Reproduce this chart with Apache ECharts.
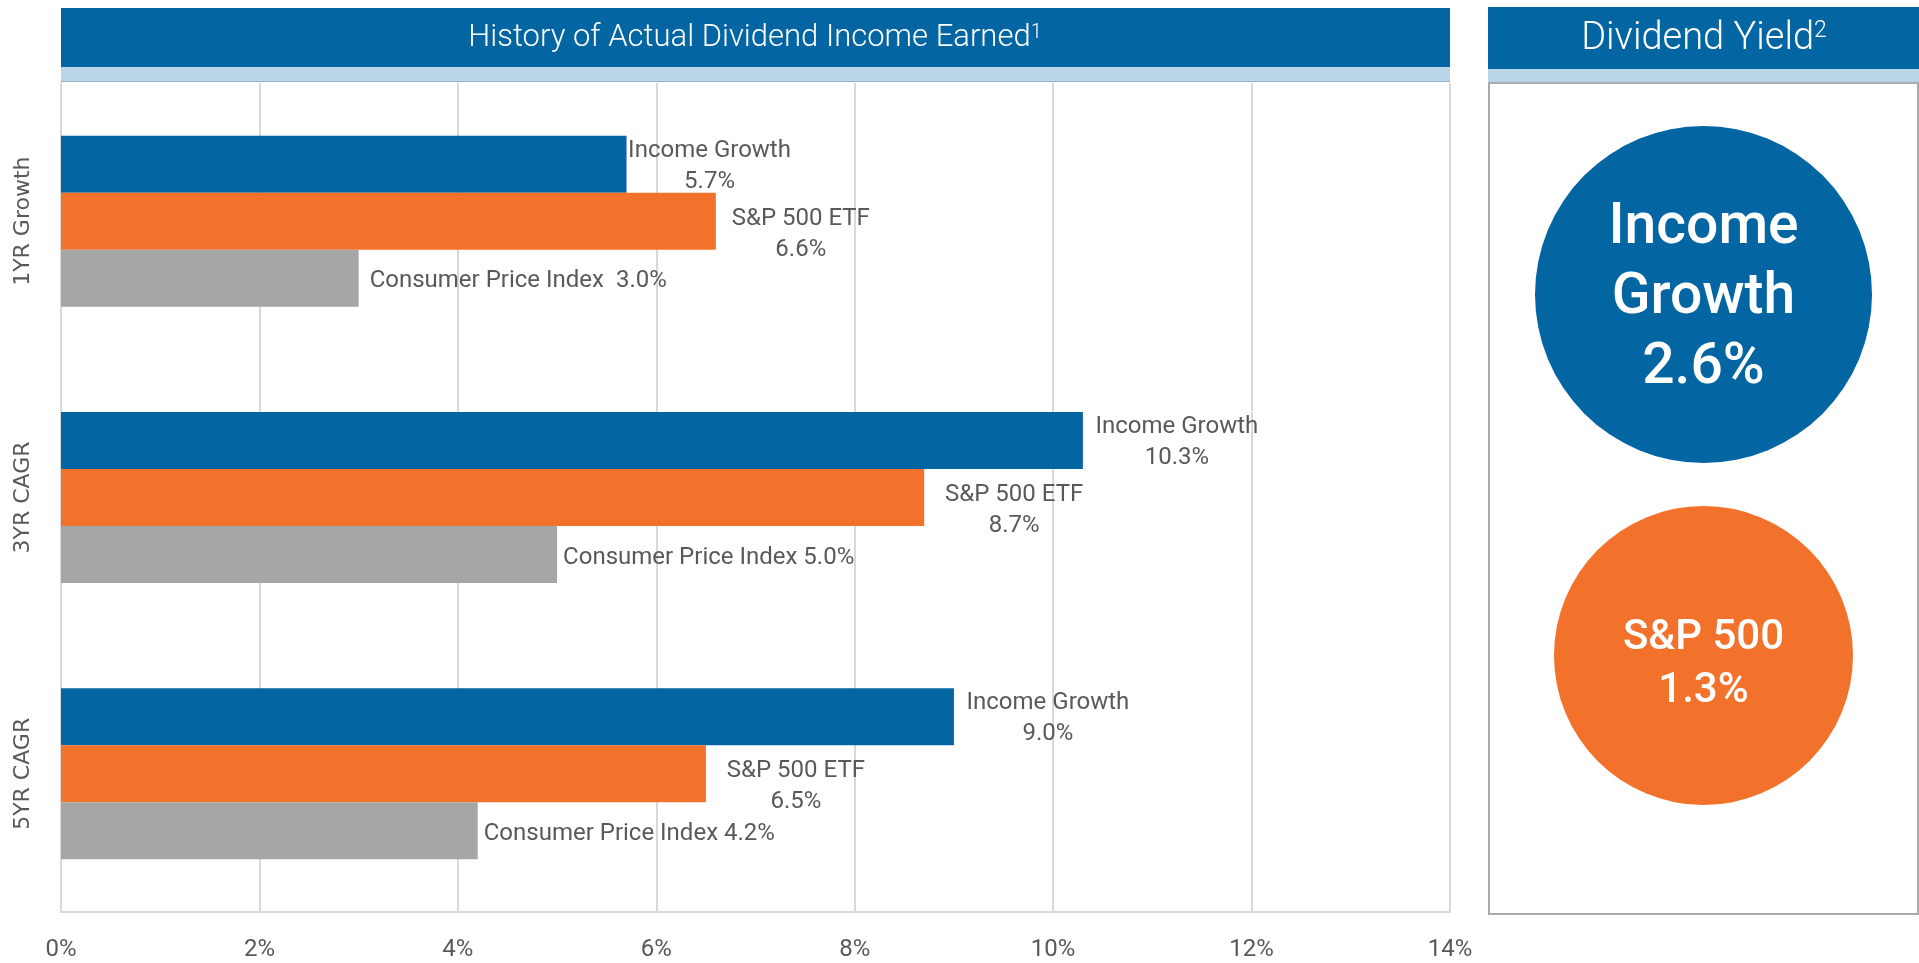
<!DOCTYPE html>
<html>
<head>
<meta charset="utf-8">
<script src="https://cdn.jsdelivr.net/npm/echarts@6/dist/echarts.min.js"></script>
<style>
  html, body { margin: 0; padding: 0; background: #fff; }
  #chart { width: 1919px; height: 963px; }
</style>
</head>
<body>
<div id="chart"></div>
<script>
// data
const periods = ['1YR Growth', '3YR CAGR', '5YR CAGR'];
const incomeGrowth = [5.7, 10.3, 9.0];
const spEtf = [6.6, 8.7, 6.5];
const cpi = [3.0, 5.0, 4.2];
const xTicks = [0, 2, 4, 6, 8, 10, 12, 14];
const yieldNames = ['Income\nGrowth', 'S&P 500'];
const yieldValues = [2.6, 1.3];

const BLUE = '#0365A2';
const ORANGE = '#F3722B';
const GRAY = '#A6A6A6';
const TXT = '#595959';
const GRID = '#D9D9D9';

const chart = echarts.init(document.getElementById('chart'));

// two-line label, lines centred over each other
function twoLine(offsetX, offsetY, distance) {
  return {
    show: true,
    position: 'right',
    distance: distance,
    align: 'center',
    offset: [offsetX, offsetY],
    fontFamily: 'Roboto',
    fontSize: 24,
    lineHeight: 31,
    color: TXT,
    formatter: p => p.seriesName + '\n' + p.value.toFixed(1) + '%'
  };
}

const circleStyle = [
  { size: 337, color: BLUE, fontSize: 57, lineHeight: 70, dy: 4 },
  { size: 299, color: ORANGE, fontSize: 42, lineHeight: 53, dy: 9 }
];

const option = {
  animation: false,
  grid: [
    { left: 61, right: 469, top: 83, bottom: 51 },
    { left: 1488, right: 0, top: 114, height: 722 }
  ],
  xAxis: [
    {
      type: 'value',
      gridIndex: 0,
      min: xTicks[0],
      max: xTicks[xTicks.length - 1],
      interval: xTicks[1] - xTicks[0],
      axisLine: { show: true, lineStyle: { color: GRID, width: 2 } },
      axisTick: { show: false },
      splitLine: { show: true, lineStyle: { color: GRID, width: 2 } },
      axisLabel: { formatter: '{value}%', fontFamily: 'Roboto', fontSize: 24, color: TXT, margin: 26 }
    },
    { type: 'category', gridIndex: 1, data: ['Dividend Yield'], show: false }
  ],
  yAxis: [
    {
      type: 'category',
      gridIndex: 0,
      data: periods,
      inverse: true,
      axisLine: { show: true, lineStyle: { color: GRID, width: 2 } },
      axisTick: { show: false },
      splitLine: { show: false },
      axisLabel: { rotate: 90, fontFamily: 'DejaVu Sans', fontSize: 22, color: TXT, margin: 27 }
    },
    { type: 'category', gridIndex: 1, data: yieldNames, inverse: true, show: false }
  ],
  graphic: [
    { type: 'rect', z: -1, shape: { x: 61, y: 8, width: 1389, height: 59 }, style: { fill: BLUE } },
    { type: 'rect', z: -1, shape: { x: 61, y: 67, width: 1389, height: 15 }, style: { fill: '#B9D5E7' } },
    { type: 'rect', z: -1, shape: { x: 61, y: 81, width: 1389, height: 1 }, style: { fill: '#98B3C4' } },
    { type: 'rect', z: -1, shape: { x: 1488, y: 7, width: 431, height: 62 }, style: { fill: BLUE } },
    { type: 'rect', z: -1, shape: { x: 1488, y: 69, width: 431, height: 13 }, style: { fill: '#B9D5E7' } },
    { type: 'rect', z: -1, shape: { x: 1489, y: 83, width: 429, height: 831 },
      style: { fill: 'none', stroke: '#ABABAB', lineWidth: 2 } },
    {
      type: 'text', x: 755, y: 38,
      style: {
        text: '{t|History of Actual Dividend Income Earned}{s|1}',
        align: 'center', verticalAlign: 'middle',
        rich: {
          t: { fontFamily: 'Roboto', fontWeight: 300, fontSize: 31, lineHeight: 30, fill: '#fff' },
          s: { fontFamily: 'Roboto', fontWeight: 300, fontSize: 20, lineHeight: 20, fill: '#fff', verticalAlign: 'top' }
        }
      }
    },
    {
      type: 'text', x: 1704, y: 39,
      style: {
        text: '{t|Dividend Yield}{s|2}',
        align: 'center', verticalAlign: 'middle',
        rich: {
          t: { fontFamily: 'Roboto', fontWeight: 300, fontSize: 38, lineHeight: 38, fill: '#fff' },
          s: { fontFamily: 'Roboto', fontWeight: 300, fontSize: 23, lineHeight: 23, fill: '#fff', verticalAlign: 'top' }
        }
      }
    }
  ],
  series: [
    {
      name: 'Income Growth',
      type: 'bar',
      barWidth: 57,
      barGap: '0%',
      itemStyle: { color: BLUE },
      label: twoLine(81, 2, 13),
      data: incomeGrowth.map((v, i) => i === 0 ? { value: v, label: { distance: 2 } } : v)
    },
    {
      name: 'S&P 500 ETF',
      type: 'bar',
      barWidth: 57,
      barGap: '0%',
      itemStyle: { color: ORANGE },
      label: twoLine(60, 13, 30),
      data: spEtf.map((v, i) => i === 0 ? { value: v, label: { distance: 25 } } : v)
    },
    {
      name: 'Consumer Price Index',
      type: 'bar',
      barWidth: 57,
      barGap: '0%',
      itemStyle: { color: GRAY },
      label: {
        show: true,
        position: 'right',
        distance: 6,
        offset: [0, 3],
        fontFamily: 'Roboto',
        fontSize: 24,
        color: TXT,
        formatter: p => p.seriesName + (p.dataIndex === 0 ? '  ' : ' ') + p.value.toFixed(1) + '%'
      },
      data: cpi.map((v, i) => i === 0 ? { value: v, label: { distance: 11 } } : v)
    },
    {
      name: 'Dividend Yield',
      type: 'scatter',
      xAxisIndex: 1,
      yAxisIndex: 1,
      symbol: 'circle',
      data: yieldNames.map((n, i) => ({
        value: ['Dividend Yield', n, yieldValues[i]],
        symbolSize: circleStyle[i].size,
        itemStyle: { color: circleStyle[i].color, opacity: 1 },
        label: {
          show: true,
          position: 'inside',
          offset: [0, circleStyle[i].dy],
          color: '#fff',
          fontFamily: 'Roboto',
          fontWeight: 500,
          fontSize: circleStyle[i].fontSize,
          lineHeight: circleStyle[i].lineHeight,
          formatter: p => p.value[1] + '\n' + p.value[2].toFixed(1) + '%'
        }
      }))
    }
  ]
};

chart.setOption(option);
</script>
</body>
</html>
